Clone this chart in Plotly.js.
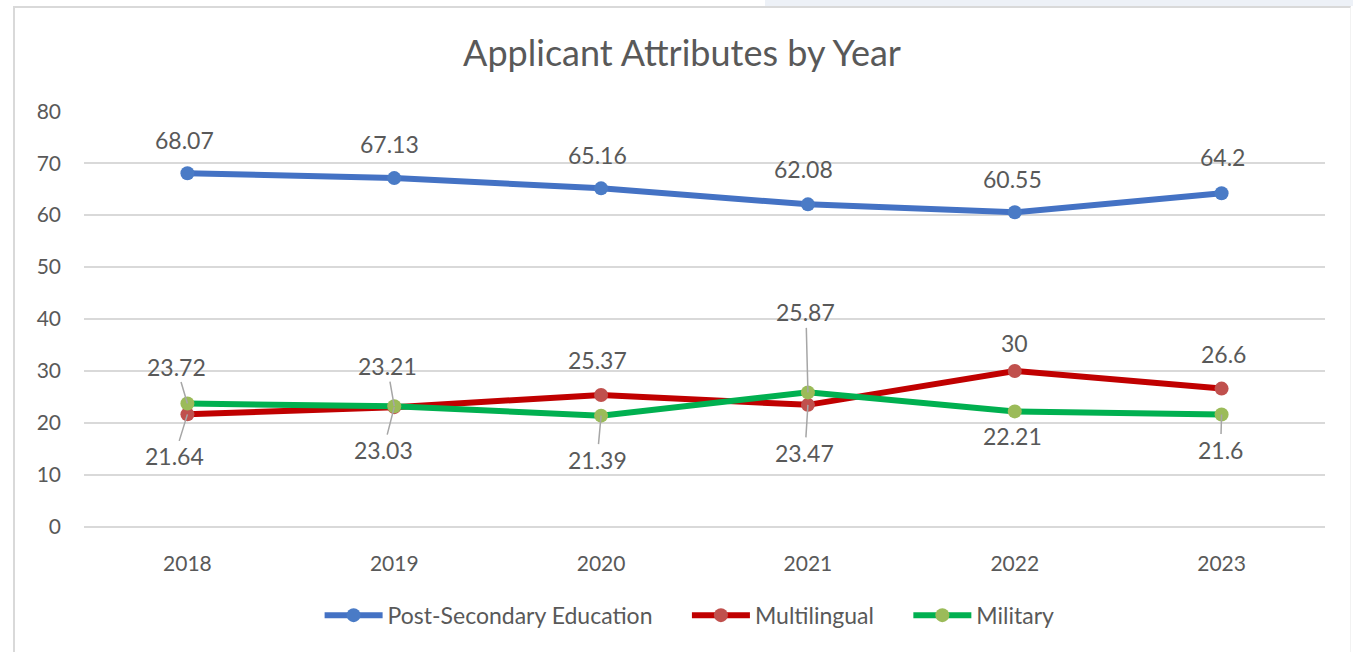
<!DOCTYPE html>
<html>
<head>
<meta charset="utf-8">
<script src="https://cdn.plot.ly/plotly-3.0.1.min.js"></script>
<style>
  html, body { margin: 0; padding: 0; background: #ffffff; width: 1353px; height: 652px; overflow: hidden; }
  #topband { position: absolute; left: 765px; top: 0; width: 588px; height: 6px; background: #edf1f7; }
  #frame { position: absolute; left: 13px; top: 6px; width: 1338px; height: 646px; border-left: 2px solid #d9d9d9; border-top: 2px solid #d9d9d9; border-right: 1px solid #f2f2f2; box-sizing: border-box; }
  #chart { position: absolute; left: 15px; top: 8px; width: 1334px; height: 644px; }
</style>
</head>
<body>
<div id="topband"></div>
<div id="frame"></div>
<div id="chart"></div>
<script>
const years = ['2018', '2019', '2020', '2021', '2022', '2023'];
const postSecondary = [68.07, 67.13, 65.16, 62.08, 60.55, 64.2];
const multilingual = [21.64, 23.03, 25.37, 23.47, 30, 26.6];
const military = [23.72, 23.21, 21.39, 25.87, 22.21, 21.6];
const yTicks = [0, 10, 20, 30, 40, 50, 60, 70, 80];

const FONT = 'Lato, "Open Sans", sans-serif';
const TXT = '#595959';
const PAD = '\u00a0\u00a0\u00a0\u00a0\u00a0';

function series(name, y, lineColor, markerColor) {
  return {
    type: 'scatter', mode: 'lines+markers', name: name,
    x: years, y: y,
    line: { color: lineColor, width: 6 },
    marker: { color: markerColor, size: 14 },
    hoverinfo: 'x+y'
  };
}

const traces = [
  series('Post-Secondary Education' + PAD, postSecondary, '#4472C4', '#4a7bc6'),
  series('Multilingual' + PAD, multilingual, '#C00000', '#C0504D'),
  series('Military', military, '#00B050', '#9BBB59')
];

// label placement (pixel offsets, style only)
const postOff = [[-3, -33], [-5, -34], [-4, -33], [-4, -35], [-2, -33], [1, -36]];
const multiOff = [[-13, 42], [-11, 43], [-4, -35], [-3, 48], [0, -28], [2, -35]];
const milOff = [[-11, -37], [-7, -40], [-4, 44], [-2, -80], [-2, 25], [-1, 35]];
const multiLeader = [true, true, false, true, false, false];
const milLeader = [true, true, true, true, false, true];

const annotations = [];
function addLabels(y, offs, leaders) {
  y.forEach(function (v, i) {
    annotations.push({
      x: i, y: v, xref: 'x', yref: 'y',
      text: String(v),
      showarrow: true, arrowhead: 0, arrowwidth: 1.5,
      arrowcolor: (leaders && leaders[i]) ? '#a6a6a6' : 'rgba(255,255,255,0)',
      ax: offs[i][0], ay: offs[i][1],
      font: { family: FONT, size: 23, color: TXT }
    });
  });
}
addLabels(postSecondary, postOff, null);
addLabels(multilingual, multiOff, multiLeader);
addLabels(military, milOff, milLeader);

const layout = {
  width: 1334, height: 644,
  paper_bgcolor: '#ffffff', plot_bgcolor: '#ffffff',
  margin: { l: 68.5, r: 23.5, t: 103, b: 125 },
  font: { family: FONT, color: TXT, size: 21 },
  title: { text: 'Applicant Attributes by Year', x: 0.5, xanchor: 'center', y: 1 - 45 / 644, yanchor: 'middle',
           font: { family: FONT, size: 36, color: TXT } },
  xaxis: {
    type: 'category', range: [-0.5, 5.5], showgrid: false, zeroline: false,
    showline: false, ticks: '', ticklabelstandoff: 22,
    tickfont: { family: FONT, size: 21, color: TXT }, fixedrange: true
  },
  yaxis: {
    range: [-0.05, 80.05], tickvals: yTicks, ticktext: yTicks.map(String),
    showgrid: true, gridcolor: '#d9d9d9', gridwidth: 2,
    zeroline: true, zerolinecolor: '#d9d9d9', zerolinewidth: 2,
    showline: false, ticks: '', ticklabelstandoff: 22,
    tickfont: { family: FONT, size: 21, color: TXT }, fixedrange: true
  },
  showlegend: true,
  legend: {
    orientation: 'h', x: 0.488, xanchor: 'center', y: -0.212, yanchor: 'middle',
    font: { family: FONT, size: 23, color: TXT }, itemwidth: 58,
    traceorder: 'normal', itemclick: false
  },
  annotations: annotations
};

Plotly.newPlot('chart', traces, layout, { displayModeBar: false, staticPlot: true });
</script>
</body>
</html>
